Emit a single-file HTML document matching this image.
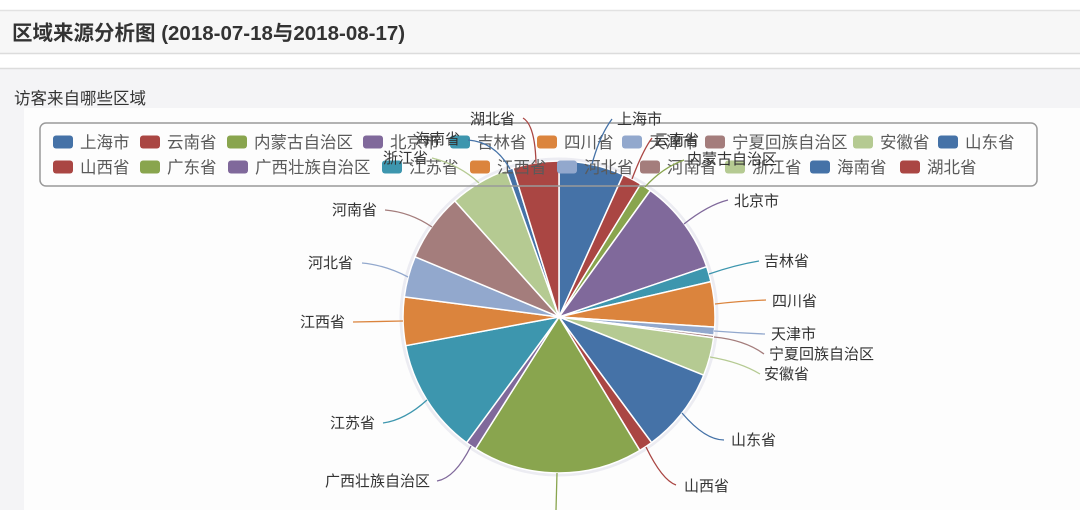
<!DOCTYPE html>
<html><head><meta charset="utf-8">
<style>
html,body{margin:0;padding:0;width:1080px;height:510px;overflow:hidden;background:#fff;}
svg{display:block;font-family:"Liberation Sans","Noto Sans CJK SC",sans-serif;}
</style></head>
<body>
<svg width="1080" height="510" viewBox="0 0 1080 510" xmlns="http://www.w3.org/2000/svg">
<rect x="0" y="0" width="1080" height="510" fill="#ffffff"/>
<rect x="0" y="11" width="1080" height="42" fill="#f7f7f7"/>
<line x1="0" y1="10.5" x2="1080" y2="10.5" stroke="#e2e2e2" stroke-width="1.5"/>
<line x1="0" y1="53.5" x2="1080" y2="53.5" stroke="#dcdcdc" stroke-width="1.5"/>
<rect x="0" y="69" width="1080" height="441" fill="#f4f4f6"/>
<line x1="0" y1="68.5" x2="1080" y2="68.5" stroke="#dcdcdc" stroke-width="1.5"/>
<rect x="24" y="108" width="1056" height="402" fill="#fdfdfd"/>

<text x="12" y="40" font-size="20.5" font-weight="bold" fill="#333">区域来源分析图 (2018-07-18与2018-08-17)</text>
<text x="14" y="104" font-size="16.5" fill="#333">访客来自哪些区域</text>

<!-- pie -->
<circle cx="559" cy="317" r="158" fill="none" stroke="#ececf2" stroke-width="3"/>
<g stroke="#ffffff" stroke-width="1.5" stroke-linejoin="round">
<path d="M559,317 L559,161 A156,156 0 0 1 623.2,174.8 Z" fill="#4572A7"/>
<path d="M559,317 L623.2,174.8 A156,156 0 0 1 640.7,184.1 Z" fill="#AA4643"/>
<path d="M559,317 L640.7,184.1 A156,156 0 0 1 650.3,190.5 Z" fill="#89A54E"/>
<path d="M559,317 L650.3,190.5 A156,156 0 0 1 706.7,266.7 Z" fill="#80699B"/>
<path d="M559,317 L706.7,266.7 A156,156 0 0 1 710.9,281.6 Z" fill="#3D96AE"/>
<path d="M559,317 L710.9,281.6 A156,156 0 0 1 714.7,327.1 Z" fill="#DB843D"/>
<path d="M559,317 L714.7,327.1 A156,156 0 0 1 713.9,335.2 Z" fill="#92A8CD"/>
<path d="M559,317 L713.9,335.2 A156,156 0 0 1 713.6,337.9 Z" fill="#A47D7C"/>
<path d="M559,317 L713.6,337.9 A156,156 0 0 1 703.7,375.2 Z" fill="#B5CA92"/>
<path d="M559,317 L703.7,375.2 A156,156 0 0 1 651.6,442.6 Z" fill="#4572A7"/>
<path d="M559,317 L651.6,442.6 A156,156 0 0 1 639.8,450.4 Z" fill="#AA4643"/>
<path d="M559,317 L639.8,450.4 A156,156 0 0 1 475.6,448.9 Z" fill="#89A54E"/>
<path d="M559,317 L475.6,448.9 A156,156 0 0 1 466.6,442.7 Z" fill="#80699B"/>
<path d="M559,317 L466.6,442.7 A156,156 0 0 1 405.7,345.7 Z" fill="#3D96AE"/>
<path d="M559,317 L405.7,345.7 A156,156 0 0 1 404.3,296.9 Z" fill="#DB843D"/>
<path d="M559,317 L404.3,296.9 A156,156 0 0 1 415.1,256.8 Z" fill="#92A8CD"/>
<path d="M559,317 L415.1,256.8 A156,156 0 0 1 454.8,200.9 Z" fill="#A47D7C"/>
<path d="M559,317 L454.8,200.9 A156,156 0 0 1 506.2,170.2 Z" fill="#B5CA92"/>
<path d="M559,317 L506.2,170.2 A156,156 0 0 1 512.9,168.0 Z" fill="#4572A7"/>
<path d="M559,317 L512.9,168.0 A156,156 0 0 1 559,161 Z" fill="#AA4643"/>
</g>

<!-- legend -->
<rect x="40" y="123" width="997" height="63" rx="6" ry="6" fill="none" stroke="#9a9a9a" stroke-width="1.5"/>
<g stroke="none">
<rect x="53" y="135.5" width="20" height="13" rx="3" fill="#4572A7"/>
<rect x="140" y="135.5" width="20" height="13" rx="3" fill="#AA4643"/>
<rect x="227" y="135.5" width="20" height="13" rx="3" fill="#89A54E"/>
<rect x="363" y="135.5" width="20" height="13" rx="3" fill="#80699B"/>
<rect x="450" y="135.5" width="20" height="13" rx="3" fill="#3D96AE"/>
<rect x="537" y="135.5" width="20" height="13" rx="3" fill="#DB843D"/>
<rect x="622" y="135.5" width="20" height="13" rx="3" fill="#92A8CD"/>
<rect x="705" y="135.5" width="20" height="13" rx="3" fill="#A47D7C"/>
<rect x="853" y="135.5" width="20" height="13" rx="3" fill="#B5CA92"/>
<rect x="938" y="135.5" width="20" height="13" rx="3" fill="#4572A7"/>
<rect x="53" y="160.5" width="20" height="13" rx="3" fill="#AA4643"/>
<rect x="140" y="160.5" width="20" height="13" rx="3" fill="#89A54E"/>
<rect x="228" y="160.5" width="20" height="13" rx="3" fill="#80699B"/>
<rect x="382" y="160.5" width="20" height="13" rx="3" fill="#3D96AE"/>
<rect x="470" y="160.5" width="20" height="13" rx="3" fill="#DB843D"/>
<rect x="557" y="160.5" width="20" height="13" rx="3" fill="#92A8CD"/>
<rect x="640" y="160.5" width="20" height="13" rx="3" fill="#A47D7C"/>
<rect x="725" y="160.5" width="20" height="13" rx="3" fill="#B5CA92"/>
<rect x="810" y="160.5" width="20" height="13" rx="3" fill="#4572A7"/>
<rect x="900" y="160.5" width="20" height="13" rx="3" fill="#AA4643"/>
</g>
<g font-size="16.5" fill="#5a5a5a">
<text x="80" y="148">上海市</text>
<text x="167" y="148">云南省</text>
<text x="254" y="148">内蒙古自治区</text>
<text x="390" y="148">北京市</text>
<text x="477" y="148">吉林省</text>
<text x="564" y="148">四川省</text>
<text x="649" y="148">天津市</text>
<text x="732" y="148">宁夏回族自治区</text>
<text x="880" y="148">安徽省</text>
<text x="965" y="148">山东省</text>
<text x="80" y="173">山西省</text>
<text x="167" y="173">广东省</text>
<text x="255" y="173">广西壮族自治区</text>
<text x="409" y="173">江苏省</text>
<text x="497" y="173">江西省</text>
<text x="584" y="173">河北省</text>
<text x="667" y="173">河南省</text>
<text x="752" y="173">浙江省</text>
<text x="837" y="173">海南省</text>
<text x="927" y="173">湖北省</text>
</g>

<!-- label lines -->
<g fill="none" stroke-width="1.3">
<path d="M592,164 Q600,135 612,119" stroke="#4572A7"/>
<path d="M632,179 Q643,150 652,138" stroke="#AA4643"/>
<path d="M645,187 Q662,168 684,160" stroke="#89A54E"/>
<path d="M684,224 Q708,205 728,200" stroke="#80699B"/>
<path d="M709,274 Q735,265 759,261" stroke="#3D96AE"/>
<path d="M715,304 Q740,301 766,300" stroke="#DB843D"/>
<path d="M714,331 Q740,333 765,334" stroke="#92A8CD"/>
<path d="M714,337 Q745,340 764,354" stroke="#A47D7C"/>
<path d="M710,357 Q740,362 760,374" stroke="#B5CA92"/>
<path d="M682,413 Q705,440 724,440" stroke="#4572A7"/>
<path d="M646,447 Q662,480 676,485" stroke="#AA4643"/>
<path d="M557,473 L556,510" stroke="#89A54E"/>
<path d="M471,446 Q455,478 437,481" stroke="#80699B"/>
<path d="M427,400 Q405,420 383,423" stroke="#3D96AE"/>
<path d="M403,321 L353,322" stroke="#DB843D"/>
<path d="M408,277 Q385,265 362,263" stroke="#92A8CD"/>
<path d="M432,227 Q410,212 385,210" stroke="#A47D7C"/>
<path d="M479,183 Q460,165 432,158" stroke="#B5CA92"/>
<path d="M510,169 Q495,142 468,140" stroke="#4572A7"/>
<path d="M536,163 Q535,125 523,118" stroke="#AA4643"/>
</g>

<!-- labels -->
<g font-size="15" fill="#333">
<text x="617" y="124">上海市</text>
<text x="654" y="145">云南省</text>
<text x="687" y="164">内蒙古自治区</text>
<text x="734" y="206">北京市</text>
<text x="764" y="266">吉林省</text>
<text x="772" y="306">四川省</text>
<text x="771" y="339">天津市</text>
<text x="769" y="359">宁夏回族自治区</text>
<text x="764" y="379">安徽省</text>
<text x="731" y="445">山东省</text>
<text x="684" y="491">山西省</text>
<text x="430" y="486" text-anchor="end">广西壮族自治区</text>
<text x="375" y="428" text-anchor="end">江苏省</text>
<text x="345" y="327" text-anchor="end">江西省</text>
<text x="353" y="268" text-anchor="end">河北省</text>
<text x="377" y="215" text-anchor="end">河南省</text>
<text x="428" y="163" text-anchor="end">浙江省</text>
<text x="460" y="144" text-anchor="end">海南省</text>
<text x="515" y="124" text-anchor="end">湖北省</text>
</g>
</svg>
</body></html>
